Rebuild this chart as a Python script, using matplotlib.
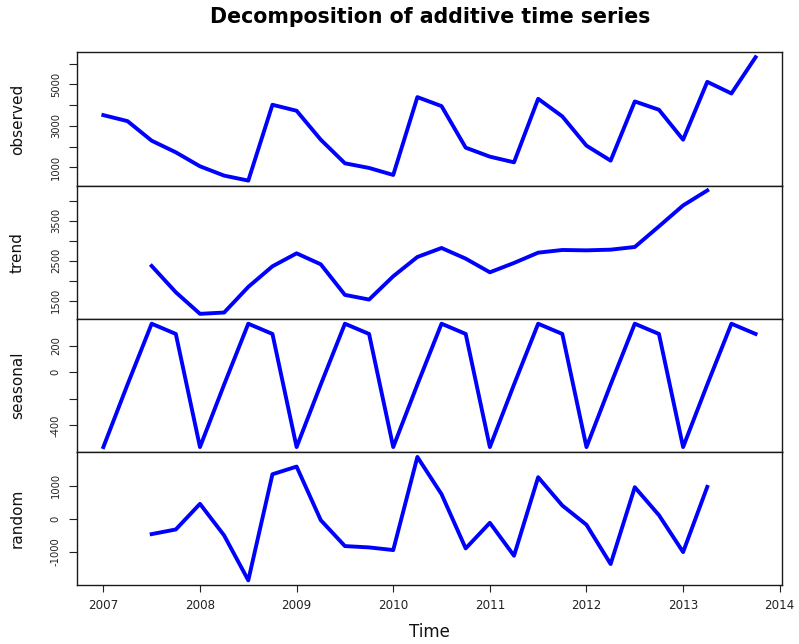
import numpy as np
import matplotlib
matplotlib.use("Agg")
import matplotlib.pyplot as plt

# quarterly series, 2007 Q1 - 2013 Q4
start_year = 2007
quarters_per_year = 4

observed = [3520, 3230, 2285, 1723, 1048, 598, 357, 4020,
            3731, 2333, 1193, 968, 630, 4390, 3956, 1948,
            1514, 1241, 4309, 3458, 2044, 1321, 4181, 3779,
            2333, 5128, 4566, 6317]

trend = [np.nan, np.nan, 2367, 1708, 1167, 1200, 1842, 2358,
         2683, 2408, 1642, 1525, 2108, 2592, 2817, 2550,
         2208, 2442, 2700, 2767, 2758, 2775, 2842, 3358,
         3883, 4258, np.nan, np.nan]

seasonal = [-563, -92, 366, 289, -563, -92, 366, 289,
            -563, -92, 366, 289, -563, -92, 366, 289,
            -563, -92, 366, 289, -563, -92, 366, 289,
            -563, -92, 366, 289]

random = [np.nan, np.nan, -460, -320, 450, -500, -1850, 1340,
          1570, -40, -820, -860, -940, 1860, 740, -890,
          -120, -1110, 1250, 400, -180, -1360, 950, 110,
          -1000, 960, np.nan, np.nan]

panel_names = ["observed", "trend", "seasonal", "random"]
year_ticks = [2007, 2008, 2009, 2010, 2011, 2012, 2013, 2014]

# y ticks per panel, with the labels R leaves out to avoid overlap
y_ticks = {
    "observed": ([1000, 2000, 3000, 4000, 5000, 6000],
                 ["1000", "", "3000", "", "5000", ""]),
    "trend": ([1500, 2000, 2500, 3000, 3500, 4000],
              ["1500", "", "2500", "", "3500", ""]),
    "seasonal": ([-400, -200, 0, 200], ["-400", "", "0", "200"]),
    "random": ([-1000, 0, 1000], ["-1000", "0", "1000"]),
}

series = dict(zip(panel_names, [observed, trend, seasonal, random]))
time = start_year + np.arange(len(observed)) / quarters_per_year

fig, axes = plt.subplots(4, 1, figsize=(7.99, 6.44), dpi=100, sharex=True)
fig.subplots_adjust(left=0.0967, right=0.9783, top=0.9188, bottom=0.0912,
                    hspace=0)


def padded(lo, hi, frac=0.04):
    span = hi - lo
    return lo - frac * span, hi + frac * span


for ax, name in zip(axes, panel_names):
    y = np.array(series[name], dtype=float)
    ax.plot(time, y, color="#0000ff", lw=2.8, solid_joinstyle="round")
    ax.set_ylim(*padded(np.nanmin(y), np.nanmax(y)))
    ticks, labels = y_ticks[name]
    ax.set_yticks(ticks)
    ax.set_yticklabels(labels, rotation=90, va="center", fontsize=7.2,
                       color="#222222")
    ax.tick_params(axis="y", direction="out", length=5.8, width=0.8,
                   pad=6, color="#222222")
    ax.tick_params(axis="x", bottom=False, labelbottom=False)
    for sp in ax.spines.values():
        sp.set_linewidth(1.0)
        sp.set_color("#1a1a1a")
    # axis label sits in the left margin, centred on the panel
    box = ax.get_position()
    fig.text(17.5 / 799, (box.y0 + box.y1) / 2, name, rotation=90,
             ha="center", va="center", fontsize=11, color="#111111")

axes[0].set_xlim(*padded(time[0], time[-1]))
bottom = axes[-1]
bottom.set_xticks(year_ticks)
bottom.set_xticklabels([str(t) for t in year_ticks], fontsize=8.6,
                       color="#222222")
bottom.tick_params(axis="x", bottom=True, labelbottom=True, direction="out",
                   length=5, width=0.8, pad=5, color="#222222")

fig.text(0.538, 1 - 22.7 / 644, "Decomposition of additive time series",
         ha="center", va="baseline", fontsize=14.8, fontweight="bold")
fig.text(0.538, 1 - 636.7 / 644, "Time", ha="center", va="baseline",
         fontsize=12, color="#111111")

fig.savefig("out.png", dpi=100)
